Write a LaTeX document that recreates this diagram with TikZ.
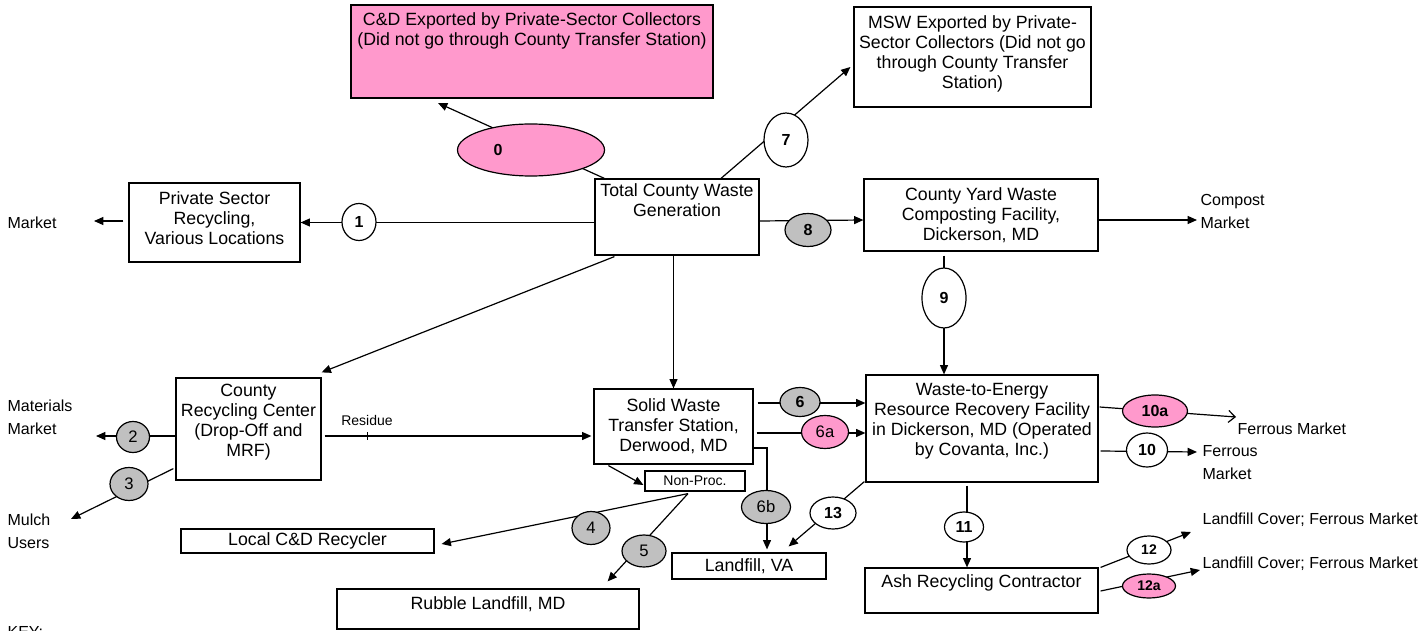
\documentclass[tikz,border=0pt]{standalone}
\usepackage{fontspec}
\setmainfont{Liberation Sans}
\usetikzlibrary{shapes.geometric,arrows.meta,calc}

\definecolor{ckpink}{RGB}{255,153,204}
\definecolor{ckgray}{RGB}{192,192,192}

\newcommand{\boxfont}{\fontsize{13.3}{15}\selectfont}
\newcommand{\sidefont}{\fontsize{12}{17.25}\selectfont}
\newcommand{\numfont}{\fontsize{12}{14}\selectfont\bfseries}
\newcommand{\plainnum}{\fontsize{12.5}{14}\selectfont}
\newcommand{\smallnum}{\fontsize{10.5}{12}\selectfont\bfseries}
\newcommand{\notefont}{\fontsize{10.5}{12}\selectfont}

\tikzset{every picture/.style={line width=0.9pt}}
\tikzset{
  sz/.style 2 args={minimum width=#1*0.75pt, minimum height=#2*0.75pt},
  box/.style={draw, rectangle, inner sep=0pt, align=center, font=\boxfont, fill=white},
  blob/.style={draw, ellipse, inner sep=0pt, fill=white, font=\numfont},
  grayblob/.style={blob, fill=ckgray},
  pinkblob/.style={blob, fill=ckpink},
  side/.style={inner sep=0pt, anchor=west, align=left, font=\sidefont},
  arr/.style={-{Triangle[length=7pt,width=6pt]}},
  openarr/.style={-{Straight Barb[length=5pt,width=9pt]}},
}

\begin{document}
\begin{tikzpicture}[x=0.75pt,y=0.75pt,yscale=-1,xscale=1]
  \useasboundingbox (0,0) rectangle (1428,631);

  %Shape: Rectangle
  \node[box, fill=ckpink, sz={362}{93}] (cdx) at (532,51.5) {C\&D Exported by Private-Sector Collectors\\(Did not go through County Transfer Station)\\[19pt]\mbox{}};
  %Shape: Rectangle
  \node[box, sz={237}{100}] (msw) at (972.5,57) {MSW Exported by Private-\\Sector Collectors (Did not go\\through County Transfer\\Station)\\[-7pt]\mbox{}};
  %Shape: Rectangle
  \node[box, sz={164}{76}] (tot) at (677,217) {Total County Waste\\Generation\\[10pt]\mbox{}};
  %Shape: Rectangle
  \node[box, sz={171}{79}] (psr) at (214.5,222.5) {Private Sector\\Recycling,\\Various Locations\\[-9pt]\mbox{}};
  %Shape: Rectangle
  \node[box, sz={234}{72}] (yard) at (981,215) {County Yard Waste\\Composting Facility,\\Dickerson, MD};
  %Shape: Rectangle
  \node[box, sz={145}{102}] (crc) at (248.5,429) {County\\Recycling Center\\(Drop-Off and\\MRF)\\[-2.4pt]\mbox{}};
  %Shape: Rectangle
  \node[box, sz={159}{75}] (sws) at (673.5,426.5) {Solid Waste\\Transfer Station,\\Derwood, MD};
  %Shape: Rectangle
  \node[box, sz={232}{107}] (wte) at (982,428.5) {Waste-to-Energy\\Resource Recovery Facility\\in Dickerson, MD (Operated\\by Covanta, Inc.)\\[-1pt]\mbox{}};
  %Shape: Rectangle
  \node[box, font=\notefont, sz={100}{20}] (nonproc) at (695,481) {Non-Proc.};
  %Shape: Rectangle
  \node[box, sz={253}{24}] (lcd) at (307.5,541) {Local C\&D Recycler};
  %Shape: Rectangle
  \node[box, sz={302}{40}] (rubble) at (488,609) {Rubble Landfill, MD\\[-5.5pt]\mbox{}};
  %Shape: Rectangle
  \node[box, sz={154}{26}] (lva) at (749,566) {Landfill, VA};
  %Shape: Rectangle
  \node[box, sz={233}{45}] (ash) at (981.5,590.5) {Ash Recycling Contractor\\[-1pt]\mbox{}};

  % Text Node
  \node[side] (mkt) at (7,223) {Market};
  % Text Node
  \node[side] (mat) at (7,417) {Materials\\Market};
  % Text Node
  \node[side] (mul) at (7,531) {Mulch\\Users};
  % Text Node
  \node[side] (cmp) at (1200,211) {Compost\\Market};
  % Text Node
  \node[side] (fe1) at (1237,429) {Ferrous Market};
  % Text Node
  \node[side] (fe2) at (1202,463) {Ferrous\\Market};
  % Text Node
  \node[side] (lc1) at (1202,520) {Landfill Cover; Ferrous Market};
  % Text Node
  \node[side] (lc2) at (1202,564) {Landfill Cover; Ferrous Market};
  % Text Node
  \node[inner sep=0pt, font=\notefont] (res) at (367,420) {Residue};
  % Text Node
  \node[side] (key) at (7,632) {KEY:};

  %free arrow ends
  \coordinate (cdxtip) at (438,103);
  \coordinate (mkttip) at (94,221);
  \coordinate (mattip) at (96,436);
  \coordinate (multip) at (71,519);
  \coordinate (cmptip) at (1197,220);
  \coordinate (fe1tip) at (1236,417);
  \coordinate (fe2tip) at (1197,452);
  \coordinate (lc1tip) at (1191,532);
  \coordinate (lc2tip) at (1200,570);

  %Straight Lines
  \draw[arr] ($(tot.north west)+(10,0)$) -- (cdxtip);
  \draw[arr] ($(tot.north)+(44,0)$) -- ($(msw.west)+(-3,10)$);
  \draw[arr] (tot.west |- psr.east) -- (psr.east);
  \draw[arr] ($(psr.west)+(-5,-1.5)$) -- (mkttip);
  \draw[arr] ($(tot.east)+(0,4)$) -- ($(yard.west)+(0,5)$);
  \draw[arr] ($(yard.east)+(0,5)$) -- (cmptip);
  \draw[arr] ($(yard.south)+(-37,4)$) -- ($(wte.north)+(-38,0)$);
  \draw[arr] ($(tot.south west)+(20,1)$) -- ($(crc.north east)+(0,-5)$);
  \draw[arr] (tot.south -| sws.north) -- (sws.north);
  %Straight Lines
  \draw[arr] ($(crc.west)+(0,7)$) -- (mattip);
  \draw[arr] ($(crc.south west)+(-2,-12)$) -- (multip);
  \draw[arr] ($(crc.east)+(3,7)$) -- coordinate[pos=0.16] (tick) ($(sws.west)+(-2,9.5)$);
  \draw ($(tick)+(0,-4)$) -- ($(tick)+(0,4)$);
  %Straight Lines
  \draw[arr] ($(sws.east)+(4,-23.5)$) -- ($(wte.west)+(0,-25.5)$);
  \draw[arr] ($(sws.east)+(3,6.5)$) -- ($(wte.west)+(0,4.5)$);
  \draw[arr] ($(sws.east)+(0,21.5)$) -| ($(lva.north)+(18,-3)$);
  \draw[arr] ($(sws.south west)+(15,1)$) -- ($(nonproc.west)+(-1,4)$);
  \draw[arr] ($(nonproc.south)+(-7,2)$) -- ($(lcd.east)+(7,3)$);
  \draw[arr] ($(nonproc.south)+(-7,2)$) -- ($(rubble.north east)+(-32,-7)$);
  %Straight Lines
  \draw[openarr] ($(wte.east)+(1,-21.5)$) -- (fe1tip);
  \draw[arr] ($(wte.east)+(2,22.5)$) -- (fe2tip);
  \draw[arr] ($(wte.south)+(-15,3)$) -- ($(ash.north)+(-14.5,0)$);
  \draw[arr] ($(wte.south west)+(-1,-1)$) -- ($(lva.north east)+(-38,-6)$);
  \draw[arr] ($(ash.north east)+(2,0)$) -- (lc1tip);
  \draw[arr] ($(ash.east)+(2,0.5)$) -- (lc2tip);

  %Shape: Ellipse
  \node[pinkblob, sz={147}{52}] (e0) at (531,150) {0\kern49.5pt};
  \node[blob, sz={34}{37}] (e1) at (359,222) {1};
  \node[grayblob, font=\plainnum, sz={33}{31}] (e2) at (133,437) {2};
  \node[grayblob, font=\plainnum, sz={38}{33}] (e3) at (129,484) {3};
  \node[grayblob, font=\plainnum, sz={38}{33}] (e4) at (591,528) {4};
  \node[grayblob, font=\plainnum, sz={44}{32}] (e5) at (644,551) {5};
  \node[grayblob, sz={40}{29}] (e6) at (800,402) {6};
  \node[pinkblob, font=\plainnum, sz={47}{33}] (e6a) at (825,432) {6a};
  \node[grayblob, font=\plainnum, sz={49}{33}] (e6b) at (766,507) {6b};
  \node[blob, sz={44}{54}] (e7) at (786,140) {7};
  \node[grayblob, sz={46}{33}] (e8) at (808,230) {8};
  \node[blob, sz={44}{60}] (e9) at (944,298) {9};
  \node[pinkblob, sz={65}{32}] (e10a) at (1155,411) {10a};
  \node[blob, sz={41}{34}] (e10) at (1147,450) {10};
  \node[blob, sz={39}{30}] (e11) at (964,527) {11};
  \node[blob, font=\smallnum, sz={44}{28}] (e12) at (1149,550) {12};
  \node[pinkblob, font=\smallnum, sz={53}{24}] (e12a) at (1149,586) {12a};
  \node[blob, sz={46}{32}] (e13) at (833,513) {13};

\end{tikzpicture}
\end{document}
